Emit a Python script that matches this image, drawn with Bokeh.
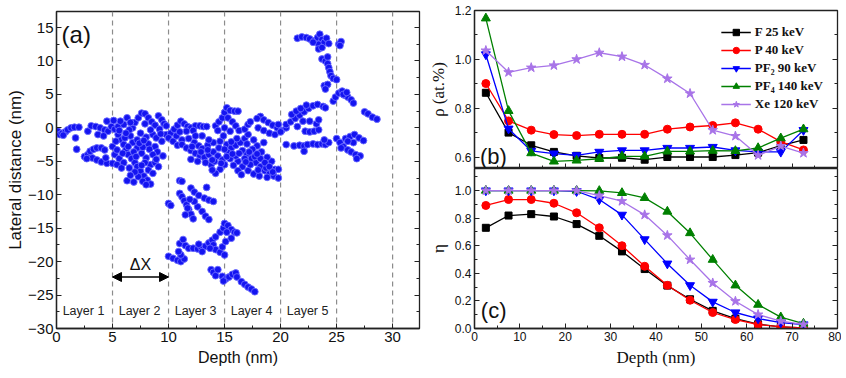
from bokeh.plotting import figure
from bokeh.layouts import row, column
from bokeh.models import (Span, Label, Arrow, NormalHead, LinearAxis, FixedTicker,
                          PrintfTickFormatter, CustomJSTickFormatter)
from bokeh.embed import file_html
from bokeh.resources import INLINE
from bokeh.core.properties import value

SANS = "Liberation Sans"
SERIF = "Liberation Serif"

# ---------------- data: panel (a) recoil cascade ----------------
branch_a = [(0.1,-0.5),(0.3,-1.0),(0.5,-0.8),(0.8,-0.6),(1.0,-0.3),(1.3,0.0),(1.6,0.1),(2.0,0.1),(0.6,-1.1),(1.7,-1.5),(1.8,-3.2)]
branch_b = [(2.5,-4.3),(2.8,-4.0),(3.0,-3.5),(3.3,-3.2),(3.6,-3.0),(4.0,-3.0),(4.3,-3.3),(3.2,-4.5),(3.6,-4.8),(4.0,-5.1),(4.5,-5.3),(5.0,-5.3),(4.4,-4.5),(2.7,-4.6)]
branch_c = [(2.8,-0.5),(3.1,0.3),(3.5,0.2),(3.9,0.0),(4.3,-0.3),(4.6,-0.5),(4.9,0.2),(4.5,1.0),(3.7,-1.0),(4.2,-1.2),(5.2,-0.2),(5.5,0.2)]
branch_d = [(5.5,-1),(5.8,-1.8),(6.0,-2.5),(6.2,-3.3),(6.4,-4.0),(6.7,-4.6),(7.0,-5.2),(7.2,-5.8),(7.5,-6.5),(7.8,-7.2),(8.1,-7.8),(8.4,-8.4),
            (6.5,-6),(6.3,-7.9),(6.9,-8.1),(7.3,-7.3),(5.2,-4),(5.6,-4.6),(6.0,-5.2),(5.4,-5.5),(5.8,-6),(8.4,-5.5),(8.8,-5.2),(9.1,-5.8),
            (9.5,-4.2),(8.0,-4.5),(7.6,-3.8),(7.2,-3),(6.8,-2.2),(6.6,-1.2),(6.8,0),(7.0,0.8),(7.3,1.5),(7.6,2.2),(7.9,2.1),(8.2,1.5),
            (8.5,0.9),(8.8,0.4),(9.1,1.8),(9.4,1.2),(9.6,0.6),(9.2,-0.2),(8.6,-1),(8.0,-1.4),(7.5,-0.8),(7.2,-1.8),(6.0,0.5),(5.7,1.0),
            (6.3,1.5),(6.6,0.8),(9.8,-1),(9.4,-2),(8.8,-2.8),(8.2,-2.4),(7.7,-2.9),(5.0,-2.8),(5.4,-3.3),(8.2,-6.3),(8.6,-6.8),(7.9,-5.2),
            (6.4,-2.8),(9.0,-3.6),(5.1,1.1),
            (5.3,-2.0),(5.9,-3.8),(6.1,-1.5),(6.5,-0.3),(6.9,-3.6),(7.1,-4.3),(7.4,-2.3),(7.8,-1.9),(8.3,-3.2),(8.6,-4.0),(8.9,-4.7),
            (7.6,-5.6),(7.0,-6.6),(6.6,-7.1),(7.7,-8.0),(8.0,-8.5),(8.9,-1.5),(9.3,-0.9),(6.2,-0.8),(5.6,-0.4),(7.9,0.6),(8.4,-0.3)]
branch_e = [(10.2,-0.8),(10.5,-0.2),(10.8,0.4),(11.1,1.0),(11.4,0.6),(11.7,0.2),(12.0,0.0),(12.4,0.3),(12.8,0.3),(13.1,0.2),(13.4,0.2),
            (10.0,-1.5),(10.4,-2.0),(10.8,-2.6),(11.2,-1.8),(10.7,-1.2),(11.6,-0.5),(9.8,0.3),(11.0,-0.6),(12.2,-0.4)]
branch_f = [(11.2,-2.5),(11.6,-3.0),(12.0,-3.4),(12.4,-3.8),(12.8,-4.2),(13.2,-4.4),(13.6,-4.0),(14.0,-3.6),(14.4,-4.2),(14.8,-4.8),(15.0,-5.5),
            (14.6,-6.2),(14.2,-6.8),(13.8,-5.5),(13.3,-5.2),(12.6,-5.0),(12.3,-2.2),(12.7,-2.7),(13.0,-3.1),(13.5,-2.6),(14.0,-2.2),(14.6,-2.0),
            (15.2,-2.5),(15.6,-3.0),(16.0,-2.6),(16.4,-2.2),(16.8,-1.6),(17.1,-1.0),(16.6,-3.4),(17.0,-4.0),(17.4,-4.6),(17.8,-5.2),(18.2,-5.8),
            (18.6,-6.4),(19.0,-6.9),(19.4,-7.2),(19.8,-7.5),(19.5,-6.2),(19.2,-5.0),(18.8,-4.4),(18.3,-3.6),(17.9,-2.7),(18.5,-2.2),(16.2,-5.0),
            (16.6,-5.8),(17.1,-6.4),(17.6,-6.9),(18.1,-7.2),(18.8,-7.4),(15.5,-4.6),(15.8,-5.6),(16.2,-6.4),(15.3,-3.7),(16.0,-4.2),(17.5,-3.2),
            (19.8,-6.2),(14.9,-1.2),(13.0,-1.2),(12.4,-1.2),(11.8,-1.6),(18.7,-6.0),(17.3,-5.5),(14.1,-5.0),(13.9,-6.3),(16.5,-7.0),(12.0,-4.7),
            (12.1,-2.8),(12.9,-3.6),(13.5,-3.3),(13.9,-4.8),(14.5,-3.0),(15.0,-3.2),(15.2,-4.3),(15.7,-3.9),(16.3,-3.8),(16.8,-4.6),(17.2,-3.6),
            (17.7,-4.3),(18.2,-4.6),(18.6,-5.2),(19.0,-5.8),(17.0,-2.4),(17.6,-1.8),(16.1,-1.6),(15.6,-2.1),(13.6,-1.8),(14.7,-5.3),(18.0,-6.3),
            (19.3,-6.6),(17.9,-3.9),(16.9,-5.1)]
branch_g = [(14.2,0.3),(14.5,0.9),(14.8,1.5),(15.0,2.3),(15.2,3.0),(15.5,2.6),(15.9,2.5),(16.2,2.5),(15.3,1.5),(15.7,0.9),(16.0,0.3),
            (16.3,-0.4),(14.4,-0.4),(15.0,0.0),(15.5,-0.5)]
branch_h = [(16.8,-0.2),(17.1,0.5),(17.3,0.9),(18.2,1.7),(18.5,1.2),(18.9,0.8),(19.3,0.4),(19.7,0.0),(20.1,-0.4),(20.5,0.0),(18.0,0.0),
            (18.5,-0.4),(19.0,-0.8),(19.5,-1.0),(20.0,-0.6),(17.9,1.4),(19.8,0.5)]
branch_i = [(20.5,0.5),(20.9,0.9),(21.3,1.4),(21.7,1.9),(22.1,2.4),(22.5,2.9),(22.9,3.3),(23.3,3.5),(23.8,3.2),(24.0,3.0),(21.0,2.0),
            (21.4,2.5),(21.8,2.9),(22.3,3.4),(21.5,0.2),(22.2,-0.5),(22.6,-0.6),(23.0,-0.5),(23.4,-0.3),(23.2,0.6),(23.4,1.2),(22.6,1.0),(22.0,1.0)]
branch_j = [(20.5,-2.5),(21.2,-2.7),(21.7,-2.6),(22.1,-2.7),(22.4,-2.5),(22.1,-3.5),(22.9,-2.4),(23.3,-2.5),(23.7,-2.4),(24.0,-2.5),
            (24.3,-2.2),(23.9,-1.8)]
branch_k = [(21.5,13.4),(21.9,13.6),(22.3,13.5),(22.6,13.3),(23.0,13.0),(23.3,13.5),(23.5,14.0),(23.7,13.2),(23.4,12.5),(23.4,11.8),
            (23.9,12.8),(24.1,13.4),(24.3,12.6),(25.2,12.5),(25.4,12.9),(25.3,12.3),(22.9,12.8),(23.7,12.0)]
branch_l = [(23.7,10.3),(24.0,10.0),(24.2,10.6),(24.2,9.6),(24.3,9.0),(24.4,8.4),(24.5,7.8),(24.7,7.4),(25.0,7.2),(23.9,6.3),(24.2,6.5),(24.0,5.8)]
branch_m = [(24.7,4.0),(24.9,4.6),(25.2,5.2),(25.5,5.5),(25.7,4.9),(26.0,4.6),(26.3,4.2),(26.5,3.7),(25.6,5.0),(25.9,5.3)]
branch_n = [(27.5,2.4),(27.8,2.1),(28.2,1.6),(28.6,1.3)]
branch_o = [(25.0,-1.6),(25.3,-2.2),(25.6,-2.8),(26.0,-3.3),(26.3,-3.6),(26.7,-4.0),(27.1,-4.2),(26.8,-4.6),(25.8,-1.6),(26.2,-1.3),
            (26.6,-1.0),(27.0,-1.5),(27.4,-1.9),(26.5,-2.2),(26.0,-2.0),(25.4,-3.0)]
branch_p = [(11.0,-7.9),(11.2,-8.0),(10.0,-11.3),(10.2,-11.6),(11.0,-9.8),(11.2,-10.3),(11.4,-10.9),(11.6,-11.5),(11.8,-12.2),(12.0,-12.9),
            (12.2,-13.6),(11.5,-13.0),(11.7,-12.0),(12.0,-9.0),(12.3,-9.6),(12.7,-10.1),(13.2,-10.5),(13.6,-10.8),(14.0,-11.0),(12.6,-11.8),
            (13.0,-12.5),(13.3,-13.2),(13.6,-13.7),(13.4,-8.9),(12.3,-11.0),(11.9,-10.7)]
branch_q = [(10.0,-19.2),(10.4,-19.5),(10.8,-19.8),(11.1,-20.0),(11.4,-19.6),(11.1,-19.0),(11.0,-17.3),(11.3,-16.7),(11.5,-17.6),(11.8,-18.0),
            (12.2,-18.0),(12.6,-18.1),(12.9,-17.8),(13.3,-17.7),(13.6,-17.2),(13.9,-16.8),(14.2,-16.3),(14.6,-15.6),(14.9,-15.0),(15.0,-14.3),
            (15.3,-14.6),(15.6,-15.2),(15.9,-15.6),(16.1,-15.7),(14.0,-17.5),(14.2,-18.2),(14.6,-18.6),(15.0,-19.0),(14.8,-17.8),(15.1,-17.0),
            (13.0,-18.5),(12.7,-17.4),(13.7,-18.0),(15.2,-15.6),(15.6,-16.5),(10.9,-18.5)]
branch_r = [(13.8,-21.2),(14.0,-21.6),(14.2,-22.1),(14.4,-21.2),(14.8,-22.2),(15.1,-22.6),(15.4,-22.3),(15.7,-21.9),(16.0,-21.7),(16.1,-22.3),
            (16.5,-23.0),(16.8,-23.4),(17.1,-23.8),(17.4,-24.1),(17.7,-24.5),(14.9,-22.9)]

cascade = (branch_a + branch_b + branch_c + branch_d + branch_e + branch_f + branch_g + branch_h + branch_i +
           branch_j + branch_k + branch_l + branch_m + branch_n + branch_o + branch_p + branch_q + branch_r)
cascade_x = [p[0] for p in cascade]
cascade_y = [p[1] for p in cascade]

layer_edges = [0, 5, 10, 15, 20, 25, 30]
layer_names = ["Layer 1", "Layer 2", "Layer 3", "Layer 4", "Layer 5"]

# ---------------- data: panels (b) and (c) ----------------
depth = [2.5, 7.5, 12.5, 17.5, 22.5, 27.5, 32.5, 37.5, 42.5, 47.5, 52.5, 57.5, 62.5, 67.5, 72.5]
series_names = ["F 25 keV", "P 40 keV", "PF\u2082 90 keV", "PF\u2084 140 keV", "Xe 120 keV"]

rho_F   = [0.863, 0.700, 0.648, 0.621, 0.605, 0.596, 0.597, 0.589, 0.600, 0.600, 0.600, 0.608, 0.618, 0.647, 0.670]
rho_P   = [0.901, 0.748, 0.710, 0.692, 0.688, 0.693, 0.693, 0.693, 0.714, 0.723, 0.729, 0.740, 0.714, 0.663, 0.629]
rho_PF2 = [1.020, 0.716, 0.625, 0.614, 0.607, 0.621, 0.627, 0.627, 0.637, 0.637, 0.641, 0.627, 0.621, 0.621, 0.710]
rho_PF4 = [1.168, 0.789, 0.616, 0.582, 0.586, 0.593, 0.603, 0.603, 0.623, 0.623, 0.626, 0.625, 0.637, 0.677, 0.714]
rho_Xe  = [1.036, 0.947, 0.966, 0.975, 1.000, 1.027, 1.011, 0.977, 0.921, 0.860, 0.710, 0.686, 0.607, 0.645, 0.616]

eta_F   = [0.730, 0.819, 0.829, 0.812, 0.757, 0.672, 0.559, 0.431, 0.311, 0.212, 0.128, 0.072, 0.031, 0.012, 0.005]
eta_P   = [0.892, 0.935, 0.935, 0.908, 0.839, 0.730, 0.600, 0.451, 0.313, 0.205, 0.116, 0.065, 0.029, 0.012, 0.005]
eta_PF2 = [1.000, 1.000, 1.000, 1.000, 0.995, 0.935, 0.824, 0.646, 0.470, 0.313, 0.193, 0.116, 0.072, 0.043, 0.029]
eta_PF4 = [1.000, 1.000, 1.000, 1.000, 1.000, 0.998, 0.983, 0.947, 0.848, 0.692, 0.499, 0.313, 0.173, 0.082, 0.036]
eta_Xe  = [1.000, 1.000, 1.000, 1.000, 1.000, 0.964, 0.923, 0.824, 0.675, 0.499, 0.330, 0.198, 0.101, 0.053, 0.029]

rho_all = [rho_F, rho_P, rho_PF2, rho_PF4, rho_Xe]
eta_all = [eta_F, eta_P, eta_PF2, eta_PF4, eta_Xe]
colors = ["#000000", "#ff0000", "#0000ff", "#008000", "#a874e8"]
markers = ["square", "circle", "inverted_triangle", "triangle", "star"]
msizes = [7, 8, 9, 9, 10]

AXC = "#222222"


def style_axes(ax, label_size, label_font, tick_font_size):
    ax.axis_line_color = AXC
    ax.axis_line_width = 1.3
    ax.major_tick_in = 5
    ax.major_tick_out = 0
    ax.minor_tick_in = 3
    ax.minor_tick_out = 0
    ax.major_tick_line_color = AXC
    ax.minor_tick_line_color = AXC
    ax.major_label_text_font = SANS
    ax.major_label_text_font_size = tick_font_size
    ax.major_label_text_color = "#111111"
    ax.axis_label_text_font = label_font
    ax.axis_label_text_font_size = label_size
    ax.axis_label_text_font_style = "normal"
    ax.axis_label_text_color = "#111111"
    ax.major_label_standoff = 3
    ax.axis_label_standoff = 4


def blank_axis(ticker):
    ax = LinearAxis(ticker=ticker, formatter=CustomJSTickFormatter(code="return ''"))
    ax.axis_line_color = None
    ax.major_tick_in = 5
    ax.major_tick_out = 0
    ax.minor_tick_in = 3
    ax.minor_tick_out = 0
    ax.major_tick_line_color = AXC
    ax.minor_tick_line_color = AXC
    ax.major_label_text_font_size = "2px"
    ax.major_label_standoff = 0
    return ax

# ---------------- panel (a) ----------------
pa = figure(frame_width=363, frame_height=317, x_range=(0, 32.4), y_range=(-30, 17.4),
            output_backend="svg", toolbar_location=None,
            min_border_left=56, min_border_right=6, min_border_top=11, min_border_bottom=40)
pa.grid.visible = False
pa.outline_line_color = AXC
pa.outline_line_width = 1.3
xt_a = FixedTicker(ticks=layer_edges, minor_ticks=[e + 2.5 for e in layer_edges])
yt_a = FixedTicker(ticks=list(range(-30, 16, 5)), minor_ticks=[v + 2.5 for v in range(-30, 16, 5)])
pa.xaxis.ticker = xt_a
pa.yaxis.ticker = yt_a
pa.xaxis.axis_label = "Depth (nm)"
pa.yaxis.axis_label = "Lateral distance (nm)"
style_axes(pa.xaxis[0], "16px", SANS, "15px")
style_axes(pa.yaxis[0], "17px", SANS, "15px")
pa.yaxis.axis_label_standoff = 0
pa.add_layout(blank_axis(yt_a), "right")

for e in layer_edges[1:]:
    pa.add_layout(Span(location=e, dimension="height", line_color="#8c8c8c",
                       line_dash="5 4", line_width=1.2, level="underlay"))

pa.scatter(cascade_x, cascade_y, size=6.8, fill_color="#1414f0", line_color="#6a6aff", line_width=0.9)

pa.text(x=[e + 0.55 for e in layer_edges[:5]], y=[-27.4] * 5, text=layer_names,
        text_font=value(SANS), text_font_size="12.5px", text_baseline="middle", text_color="#222222")
pa.add_layout(Arrow(start=NormalHead(size=9, fill_color="black", line_color="black"),
                    end=NormalHead(size=9, fill_color="black", line_color="black"),
                    x_start=layer_edges[1], x_end=layer_edges[2], y_start=-22.3, y_end=-22.3,
                    line_width=1.5, line_color="black"))
pa.add_layout(Label(x=(layer_edges[1] + layer_edges[2]) / 2, y=-20.4, text="\u0394X", text_align="center",
                    text_baseline="middle", text_font=SANS, text_font_size="16px", text_color="#111111"))
pa.add_layout(Label(x=0.45, y=13.9, text="(a)", text_baseline="middle", text_font=SANS,
                    text_font_size="24px", text_color="#111111"))

# ---------------- panel (b) ----------------
xt_bc = FixedTicker(ticks=list(range(0, 81, 10)), minor_ticks=list(range(5, 80, 10)))
pb = figure(frame_width=363, frame_height=158, x_range=(0, 80), y_range=(0.553, 1.2),
            output_backend="svg", toolbar_location=None, x_axis_location=None,
            min_border_left=43, min_border_right=4, min_border_top=10, min_border_bottom=0)
pb.grid.visible = False
pb.outline_line_color = AXC
pb.outline_line_width = 1.3
yt_b = FixedTicker(ticks=[0.6, 0.8, 1.0, 1.2], minor_ticks=[0.7, 0.9, 1.1])
pb.yaxis.ticker = yt_b
pb.yaxis.formatter = PrintfTickFormatter(format="%.1f")
pb.yaxis.axis_label = "\u03c1 (at.%)"
style_axes(pb.yaxis[0], "17px", SERIF, "12px")
pb.add_layout(blank_axis(yt_b), "right")
pb.add_layout(blank_axis(xt_bc), "below")

for name, ys, c, m, s in zip(series_names, rho_all, colors, markers, msizes):
    pb.line(depth, ys, line_color=c, line_width=1.3, legend_label=name)
    pb.scatter(depth, ys, marker=m, size=s, fill_color=c, line_color=c, legend_label=name)

lg = pb.legend[0]
lg.location = "top_right"
lg.background_fill_alpha = 0
lg.border_line_alpha = 0
lg.label_text_font = SERIF
lg.label_text_font_style = "bold"
lg.label_text_font_size = "13px"
lg.label_text_color = "#111111"
lg.glyph_width = 30
lg.glyph_height = 16
lg.label_height = 16
lg.spacing = 2
lg.padding = 5
lg.margin = 9
lg.label_standoff = 4

pb.add_layout(Label(x=1.2, y=0.603, text="(b)", text_baseline="middle", text_font=SANS,
                    text_font_size="22px", text_color="#111111"))

# ---------------- panel (c) ----------------
pc = figure(frame_width=363, frame_height=160, x_range=(0, 80), y_range=(0, 1.16),
            output_backend="svg", toolbar_location=None,
            min_border_left=43, min_border_right=4, min_border_top=0, min_border_bottom=40)
pc.grid.visible = False
pc.outline_line_color = AXC
pc.outline_line_width = 1.3
yt_c = FixedTicker(ticks=[0.0, 0.2, 0.4, 0.6, 0.8, 1.0], minor_ticks=[0.1, 0.3, 0.5, 0.7, 0.9, 1.1])
pc.yaxis.ticker = yt_c
pc.yaxis.formatter = PrintfTickFormatter(format="%.1f")
pc.xaxis.ticker = xt_bc
pc.yaxis.axis_label = "\u03b7"
pc.xaxis.axis_label = "Depth (nm)"
style_axes(pc.yaxis[0], "17px", SERIF, "12px")
style_axes(pc.xaxis[0], "17px", SERIF, "12px")
pc.add_layout(blank_axis(yt_c), "right")

for name, ys, c, m, s in zip(series_names, eta_all, colors, markers, msizes):
    pc.line(depth, ys, line_color=c, line_width=1.3)
    pc.scatter(depth, ys, marker=m, size=s, fill_color=c, line_color=c)

pc.add_layout(Label(x=1.4, y=0.13, text="(c)", text_baseline="middle", text_font=SANS,
                    text_font_size="22px", text_color="#111111"))

layout = row(pa, column(pb, pc))
open("out.html", "w").write(file_html(layout, INLINE))
